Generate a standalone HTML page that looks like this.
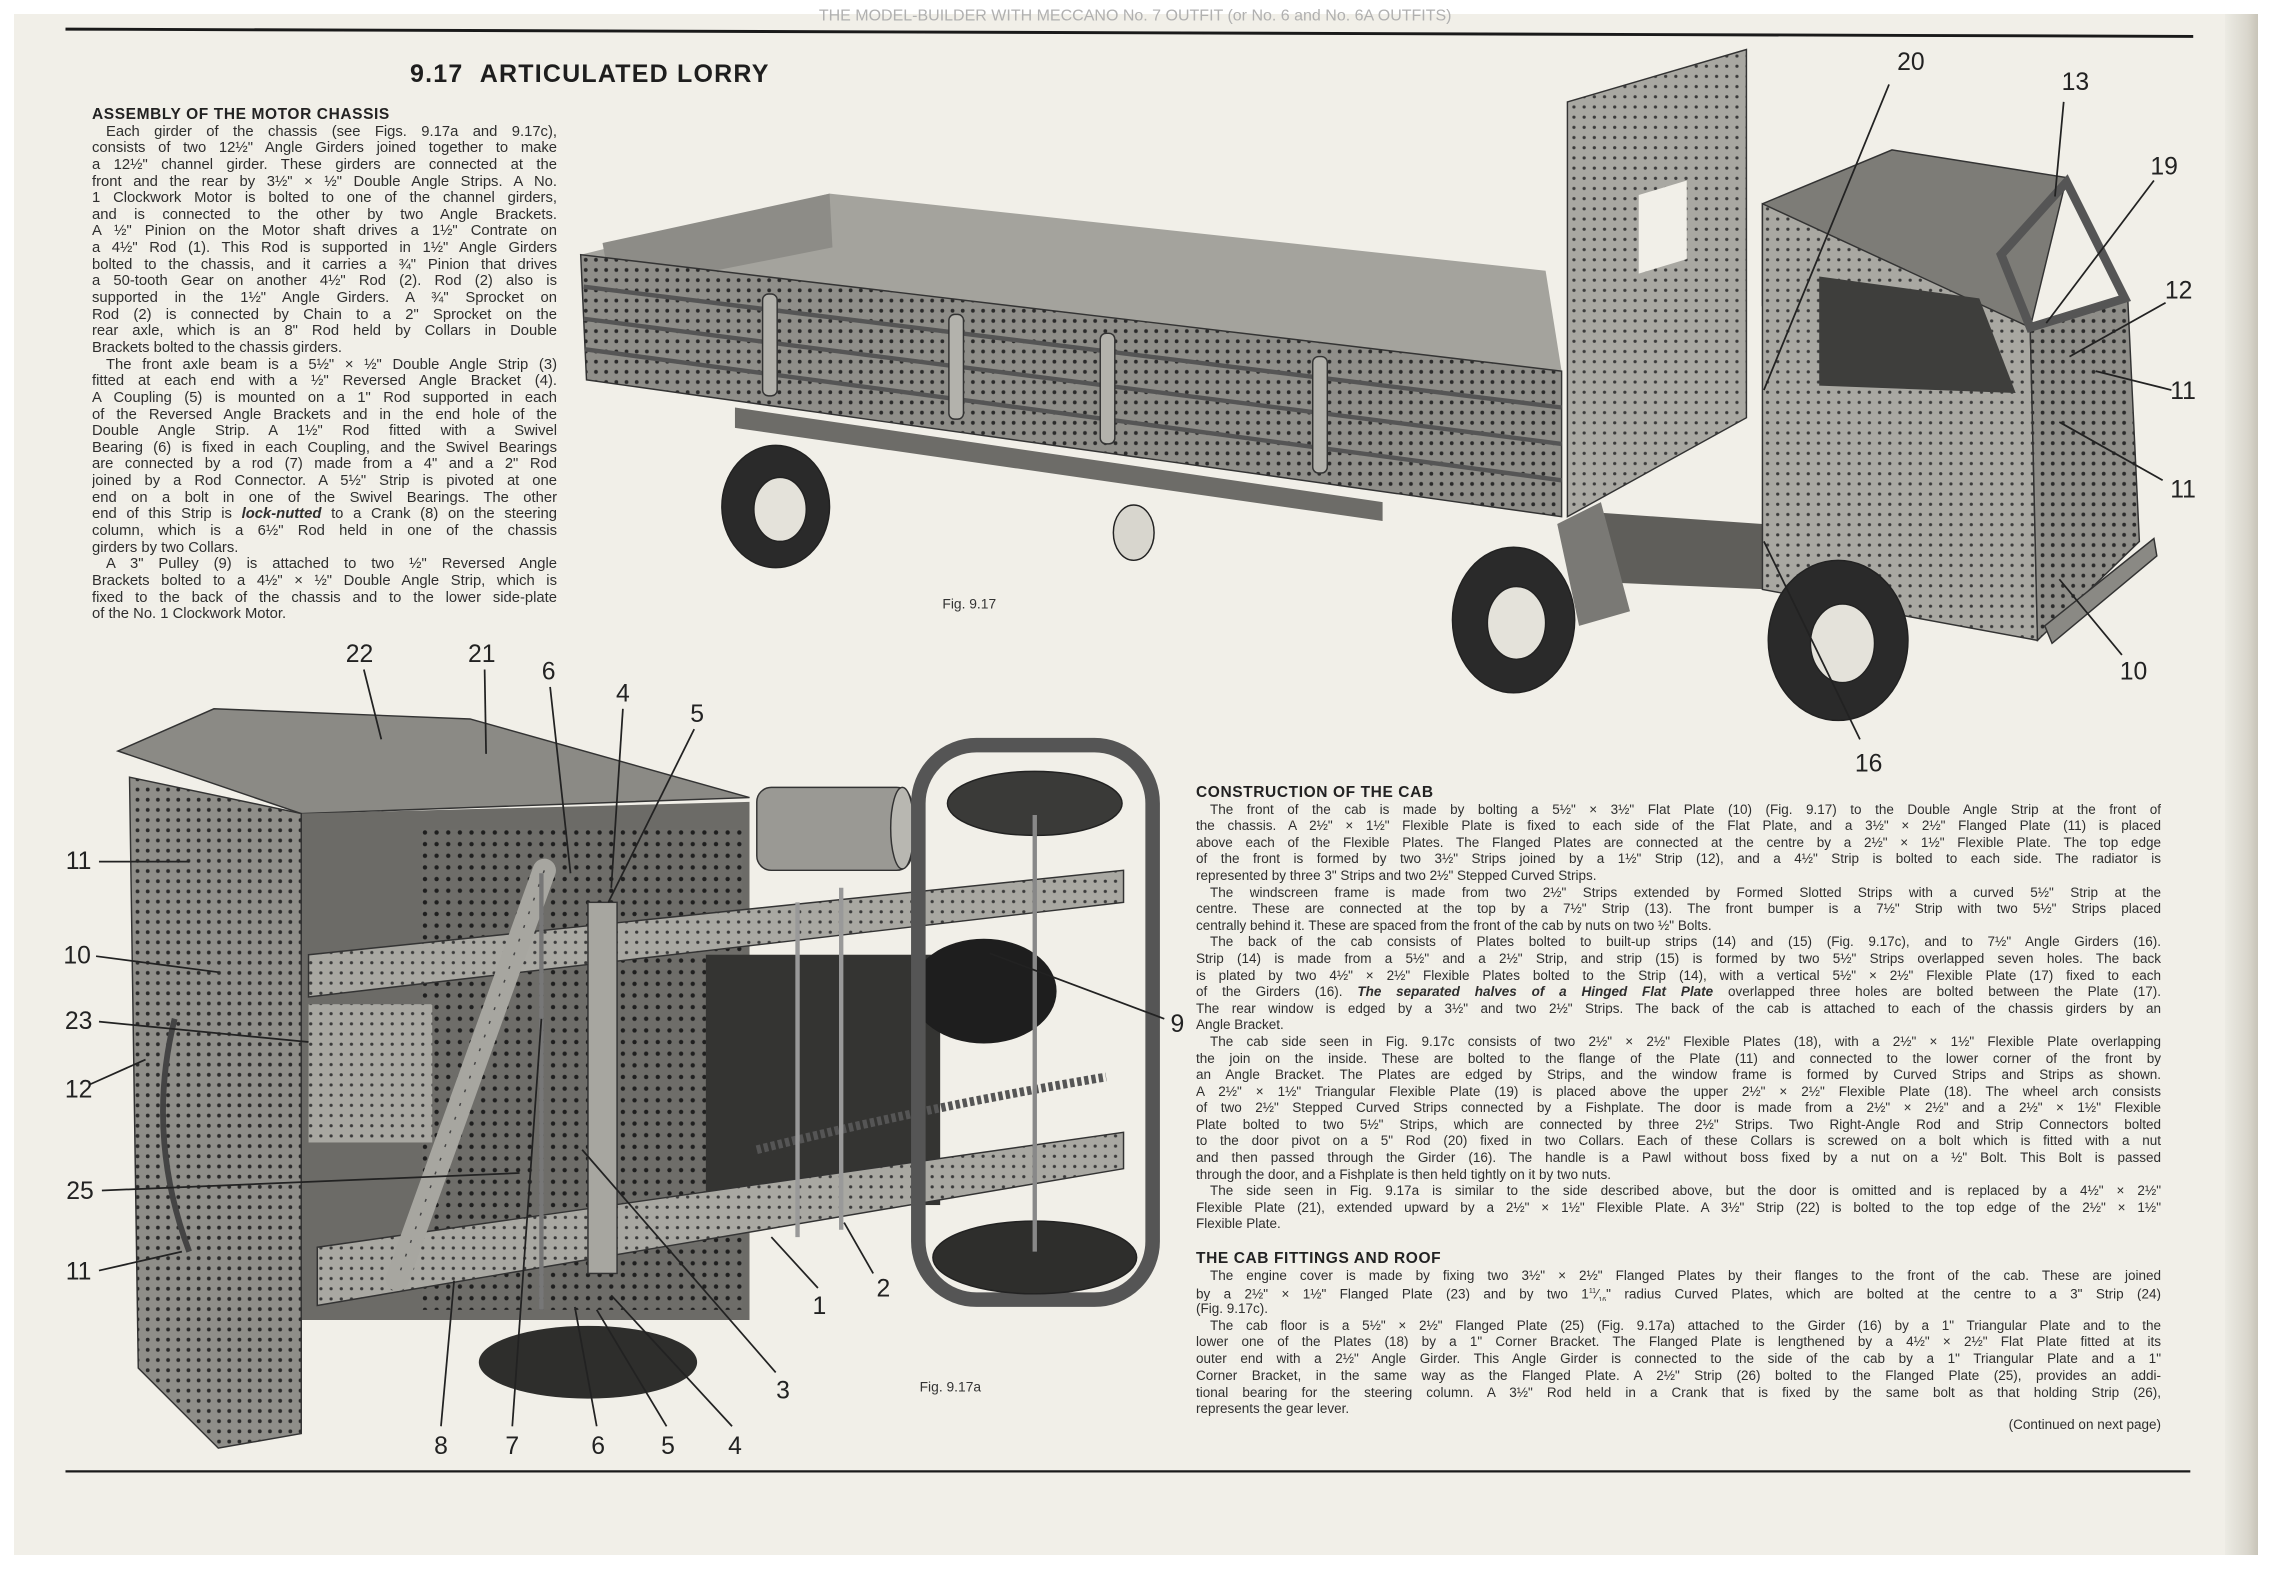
<!DOCTYPE html>
<html><head><meta charset="utf-8">
<style>
html,body{margin:0;padding:0;background:#fff;}
#pg{position:relative;width:2282px;height:1574px;overflow:hidden;background:#fff;font-family:"Liberation Sans",sans-serif;color:#2e2e2e;}
#paper{position:absolute;left:14px;top:14px;width:2244px;height:1541px;background:#f1efe8;}
#curl{position:absolute;left:2225px;top:14px;width:33px;height:1541px;background:linear-gradient(90deg,#ecebe4,#d9d6cc 70%,#c8c4b8);}
svg{position:absolute;left:0;top:0;}
.col{position:absolute;font-size:14.8px;}
.col div{height:16.65px;line-height:16.65px;text-align:justify;text-align-last:justify;overflow:hidden;white-space:normal;}
.col div.e{text-align-last:left;}
.col div.i{text-indent:14px;}
.col div.h{font-weight:bold;font-size:15.5px;letter-spacing:0.6px;text-align-last:left;color:#222;}
#rc{font-size:13.5px;}
#rc div{height:16.6px;line-height:16.6px;}
#rc2{font-size:13.5px;}
#rc2 div{height:16.7px;line-height:16.7px;}
</style></head><body>
<div id="pg">
<div id="paper"></div>
<div id="curl"></div>

<svg width="2282" height="1574" viewBox="0 0 1568 1081.5">
<defs>
<pattern id="p" width="7" height="7" patternUnits="userSpaceOnUse">
<rect width="7" height="7" fill="#8f8e89"/><circle cx="3.5" cy="3.5" r="1.3" fill="#2a2a2a"/>
</pattern>
<pattern id="pl" width="7" height="7" patternUnits="userSpaceOnUse">
<rect width="7" height="7" fill="#a9a8a2"/><circle cx="3.5" cy="3.5" r="1.1" fill="#3a3a3a"/>
</pattern>
<pattern id="pd" width="8" height="8" patternUnits="userSpaceOnUse">
<rect width="8" height="8" fill="#6e6d69"/><circle cx="4" cy="4" r="1.5" fill="#1e1e1e"/>
</pattern>
</defs>
<line x1="45" y1="20" x2="1507" y2="25" stroke="#1a1a1a" stroke-width="2"/>
<line x1="45" y1="1011" x2="1505" y2="1011" stroke="#1a1a1a" stroke-width="1.6"/>
<text x="780" y="14" font-size="11" fill="#b0b0b0" text-anchor="middle" font-family="Liberation Sans">THE MODEL-BUILDER WITH MECCANO No. 7 OUTFIT (or No. 6 and No. 6A OUTFITS)</text>

<!-- ===== Fig 9.17 truck ===== -->
<polygon points="399,175 570,133 1062,186 1073,255" fill="#a4a39d"/>
<polygon points="414,167 570,133 572,170 420,200" fill="#8d8c87"/>
<polygon points="399,175 1073,255 1073,355 403,261" fill="url(#p)" stroke="#333" stroke-width="1"/>
<line x1="401" y1="197" x2="1073" y2="280" stroke="#555" stroke-width="3"/>
<line x1="401" y1="219" x2="1073" y2="305" stroke="#555" stroke-width="3"/>
<line x1="402" y1="240" x2="1073" y2="330" stroke="#555" stroke-width="3"/>
<g fill="#b3b2ac" stroke="#333" stroke-width="1">
<rect x="524" y="202" width="10" height="70" rx="4"/>
<rect x="652" y="216" width="10" height="72" rx="4"/>
<rect x="756" y="229" width="10" height="76" rx="4"/>
<rect x="902" y="245" width="10" height="80" rx="4"/>
</g>
<polygon points="505,280 950,345 950,358 505,294" fill="#6d6c68"/>
<polygon points="1077,70 1200,34 1200,287 1077,355" fill="url(#pl)" stroke="#333" stroke-width="1"/>
<polygon points="1126,134 1159,124 1159,178 1126,188" fill="#f1efe8"/>
<polygon points="1095,352 1211,360 1215,405 1100,400" fill="#5f5e5a"/>
<polygon points="1070,360 1100,345 1120,420 1085,430" fill="#7a7975"/>
<polygon points="1211,140 1300,103 1420,122 1395,225 1211,210" fill="#7d7c77" stroke="#333"/>
<polygon points="1211,140 1395,225 1400,440 1211,405" fill="url(#pl)" stroke="#333"/>
<polygon points="1250,190 1360,205 1385,270 1250,265" fill="#3e3e3c"/>
<polygon points="1395,225 1462,205 1470,372 1400,440" fill="url(#p)" stroke="#333"/>
<polygon points="1420,125 1460,205 1395,225 1375,175" fill="none" stroke="#555" stroke-width="6"/>
<polygon points="1405,430 1480,370 1482,382 1410,442" fill="#8a8984" stroke="#333"/>
<g stroke="#222" stroke-width="1">
<ellipse cx="533" cy="348" rx="37" ry="42" fill="#2a2a2a"/>
<ellipse cx="536" cy="350" rx="18" ry="22" fill="#e4e2da"/>
<ellipse cx="779" cy="366" rx="14" ry="19" fill="#d8d6ce"/>
<ellipse cx="1040" cy="426" rx="42" ry="50" fill="#2a2a2a"/>
<ellipse cx="1042" cy="428" rx="20" ry="25" fill="#e4e2da"/>
<ellipse cx="1263" cy="440" rx="48" ry="55" fill="#2a2a2a"/>
<ellipse cx="1266" cy="442" rx="22" ry="27" fill="#e4e2da"/>
</g>
<text x="666" y="418" font-size="9.5" text-anchor="middle" fill="#333" font-family="Liberation Sans">Fig. 9.17</text>

<g stroke="#222" stroke-width="1.2">
<line x1="1298" y1="58" x2="1212" y2="268"/>
<line x1="1418" y1="70" x2="1412" y2="135"/>
<line x1="1480" y1="124" x2="1406" y2="222"/>
<line x1="1488" y1="208" x2="1422" y2="245"/>
<line x1="1492" y1="268" x2="1440" y2="255"/>
<line x1="1486" y1="330" x2="1415" y2="290"/>
<line x1="1458" y1="450" x2="1415" y2="398"/>
<line x1="1278" y1="508" x2="1212" y2="372"/>
</g>
<g font-family="Liberation Sans" font-size="17" fill="#222" text-anchor="middle">
<text x="1313" y="48">20</text>
<text x="1426" y="62">13</text>
<text x="1487" y="120">19</text>
<text x="1497" y="205">12</text>
<text x="1500" y="274">11</text>
<text x="1500" y="342">11</text>
<text x="1466" y="467">10</text>
<text x="1284" y="530">16</text>
</g>

<!-- ===== Fig 9.17a chassis ===== -->
<polygon points="81,516 147,487 323,494 515,548 207,559" fill="#8b8a85" stroke="#333"/>
<polygon points="207,559 515,551 515,907 207,907" fill="#6c6b67"/>
<rect x="290" y="570" width="220" height="330" fill="url(#pd)"/>
<rect x="212" y="690" width="85" height="95" fill="url(#pl)"/>
<polygon points="89,534 207,559 207,985 150,995 95,940" fill="url(#p)" stroke="#333"/>
<path d="M120 700 Q100 780 130 860" stroke="#444" stroke-width="4" fill="none"/>
<rect x="520" y="541" width="106" height="57" rx="10" fill="#9a9994" stroke="#333"/>
<ellipse cx="620" cy="569" rx="8" ry="28" fill="#b8b7b1" stroke="#333"/>
<rect x="485" y="656" width="161" height="172" fill="#343432"/>
<ellipse cx="676" cy="681" rx="50" ry="36" fill="#1e1e1e"/>
<polygon points="212,656 772,598 772,620 212,685" fill="url(#pl)" stroke="#333"/>
<polygon points="218,857 772,778 772,803 218,897" fill="url(#pl)" stroke="#333"/>
<path d="M520 790 Q640 760 760 740" stroke="#555" stroke-width="6" fill="none" stroke-dasharray="3 2"/>
<rect x="631" y="512" width="161" height="381" rx="40" fill="none" stroke="#555" stroke-width="10"/>
<ellipse cx="711" cy="552" rx="60" ry="22" fill="#3a3a38" stroke="#222"/>
<ellipse cx="711" cy="864" rx="70" ry="25" fill="#2e2e2c" stroke="#222"/>
<line x1="711" y1="560" x2="711" y2="860" stroke="#888" stroke-width="3"/>
<line x1="548" y1="620" x2="548" y2="850" stroke="#999" stroke-width="3"/>
<line x1="578" y1="610" x2="578" y2="845" stroke="#999" stroke-width="3"/>
<line x1="374" y1="598" x2="273" y2="879" stroke="#a7a6a0" stroke-width="16" stroke-linecap="round"/>
<line x1="374" y1="598" x2="273" y2="879" stroke="#444" stroke-width="1" stroke-dasharray="2 8"/>
<rect x="404" y="620" width="20" height="255" fill="#a7a6a0" stroke="#333"/>
<line x1="372" y1="600" x2="372" y2="900" stroke="#777" stroke-width="3"/>
<ellipse cx="404" cy="936" rx="75" ry="25" fill="#2e2e2c"/>
<g stroke="#222" stroke-width="1.2">
<line x1="68" y1="592" x2="130" y2="592"/>
<line x1="66" y1="657" x2="150" y2="668"/>
<line x1="68" y1="702" x2="212" y2="716"/>
<line x1="62" y1="745" x2="100" y2="728"/>
<line x1="70" y1="818" x2="357" y2="806"/>
<line x1="68" y1="873" x2="125" y2="860"/>
<line x1="250" y1="460" x2="262" y2="508"/>
<line x1="333" y1="460" x2="334" y2="518"/>
<line x1="378" y1="472" x2="392" y2="600"/>
<line x1="428" y1="487" x2="420" y2="610"/>
<line x1="477" y1="501" x2="418" y2="620"/>
<line x1="800" y1="700" x2="680" y2="655"/>
<line x1="562" y1="885" x2="530" y2="850"/>
<line x1="600" y1="875" x2="580" y2="840"/>
<line x1="533" y1="943" x2="400" y2="790"/>
<line x1="303" y1="980" x2="312" y2="880"/>
<line x1="352" y1="980" x2="372" y2="700"/>
<line x1="410" y1="980" x2="395" y2="898"/>
<line x1="458" y1="980" x2="410" y2="900"/>
<line x1="503" y1="980" x2="420" y2="890"/>
</g>
<g font-family="Liberation Sans" font-size="17" fill="#222" text-anchor="middle">
<text x="247" y="455">22</text>
<text x="331" y="455">21</text>
<text x="377" y="467">6</text>
<text x="428" y="482">4</text>
<text x="479" y="496">5</text>
<text x="54" y="597">11</text>
<text x="53" y="662">10</text>
<text x="54" y="707">23</text>
<text x="54" y="754">12</text>
<text x="55" y="824">25</text>
<text x="54" y="879">11</text>
<text x="809" y="709">9</text>
<text x="563" y="903">1</text>
<text x="607" y="891">2</text>
<text x="538" y="961">3</text>
<text x="303" y="999">8</text>
<text x="352" y="999">7</text>
<text x="411" y="999">6</text>
<text x="459" y="999">5</text>
<text x="505" y="999">4</text>
</g>
<text x="653" y="956" font-size="9.5" text-anchor="middle" fill="#333" font-family="Liberation Sans">Fig. 9.17a</text>
</svg>

<div style="position:absolute;left:410px;top:60px;font-size:25px;font-weight:bold;letter-spacing:1.2px;color:#1e1e1e;">9.17&nbsp;&nbsp;ARTICULATED LORRY</div>

<div class="col" style="left:92px;top:107px;width:465px;">
<div class="h">ASSEMBLY OF THE MOTOR CHASSIS</div>
<div class="i">Each girder of the chassis (see Figs. 9.17a and 9.17c),</div>
<div>consists of two 12½" Angle Girders joined together to make</div>
<div>a 12½" channel girder. These girders are connected at the</div>
<div>front and the rear by 3½" × ½" Double Angle Strips. A No.</div>
<div>1 Clockwork Motor is bolted to one of the channel girders,</div>
<div>and is connected to the other by two Angle Brackets.</div>
<div>A ½" Pinion on the Motor shaft drives a 1½" Contrate on</div>
<div>a 4½" Rod (1). This Rod is supported in 1½" Angle Girders</div>
<div>bolted to the chassis, and it carries a ¾" Pinion that drives</div>
<div>a 50-tooth Gear on another 4½" Rod (2). Rod (2) also is</div>
<div>supported in the 1½" Angle Girders. A ¾" Sprocket on</div>
<div>Rod (2) is connected by Chain to a 2" Sprocket on the</div>
<div>rear axle, which is an 8" Rod held by Collars in Double</div>
<div class="e">Brackets bolted to the chassis girders.</div>
<div class="i">The front axle beam is a 5½" × ½" Double Angle Strip (3)</div>
<div>fitted at each end with a ½" Reversed Angle Bracket (4).</div>
<div>A Coupling (5) is mounted on a 1" Rod supported in each</div>
<div>of the Reversed Angle Brackets and in the end hole of the</div>
<div>Double Angle Strip. A 1½" Rod fitted with a Swivel</div>
<div>Bearing (6) is fixed in each Coupling, and the Swivel Bearings</div>
<div>are connected by a rod (7) made from a 4" and a 2" Rod</div>
<div>joined by a Rod Connector. A 5½" Strip is pivoted at one</div>
<div>end on a bolt in one of the Swivel Bearings. The other</div>
<div>end of this Strip is <i><b>lock-nutted</b></i> to a Crank (8) on the steering</div>
<div>column, which is a 6½" Rod held in one of the chassis</div>
<div class="e">girders by two Collars.</div>
<div class="i">A 3" Pulley (9) is attached to two ½" Reversed Angle</div>
<div>Brackets bolted to a 4½" × ½" Double Angle Strip, which is</div>
<div>fixed to the back of the chassis and to the lower side-plate</div>
<div class="e">of the No. 1 Clockwork Motor.</div>
</div>

<div class="col" id="rc" style="left:1196px;top:785px;width:965px;">
<div class="h">CONSTRUCTION OF THE CAB</div>
<div class="i">The front of the cab is made by bolting a 5½" × 3½" Flat Plate (10) (Fig. 9.17) to the Double Angle Strip at the front of</div>
<div>the chassis. A 2½" × 1½" Flexible Plate is fixed to each side of the Flat Plate, and a 3½" × 2½" Flanged Plate (11) is placed</div>
<div>above each of the Flexible Plates. The Flanged Plates are connected at the centre by a 2½" × 1½" Flexible Plate. The top edge</div>
<div>of the front is formed by two 3½" Strips joined by a 1½" Strip (12), and a 4½" Strip is bolted to each side. The radiator is</div>
<div class="e">represented by three 3" Strips and two 2½" Stepped Curved Strips.</div>
<div class="i">The windscreen frame is made from two 2½" Strips extended by Formed Slotted Strips with a curved 5½" Strip at the</div>
<div>centre. These are connected at the top by a 7½" Strip (13). The front bumper is a 7½" Strip with two 5½" Strips placed</div>
<div class="e">centrally behind it. These are spaced from the front of the cab by nuts on two ½" Bolts.</div>
<div class="i">The back of the cab consists of Plates bolted to built-up strips (14) and (15) (Fig. 9.17c), and to 7½" Angle Girders (16).</div>
<div>Strip (14) is made from a 5½" and a 2½" Strip, and strip (15) is formed by two 5½" Strips overlapped seven holes. The back</div>
<div>is plated by two 4½" × 2½" Flexible Plates bolted to the Strip (14), with a vertical 5½" × 2½" Flexible Plate (17) fixed to each</div>
<div>of the Girders (16). <b><i>The separated halves of a Hinged Flat Plate</i></b> overlapped three holes are bolted between the Plate (17).</div>
<div>The rear window is edged by a 3½" and two 2½" Strips. The back of the cab is attached to each of the chassis girders by an</div>
<div class="e">Angle Bracket.</div>
<div class="i">The cab side seen in Fig. 9.17c consists of two 2½" × 2½" Flexible Plates (18), with a 2½" × 1½" Flexible Plate overlapping</div>
<div>the join on the inside. These are bolted to the flange of the Plate (11) and connected to the lower corner of the front by</div>
<div>an Angle Bracket. The Plates are edged by Strips, and the window frame is formed by Curved Strips and Strips as shown.</div>
<div>A 2½" × 1½" Triangular Flexible Plate (19) is placed above the upper 2½" × 2½" Flexible Plate (18). The wheel arch consists</div>
<div>of two 2½" Stepped Curved Strips connected by a Fishplate. The door is made from a 2½" × 2½" and a 2½" × 1½" Flexible</div>
<div>Plate bolted to two 5½" Strips, which are connected by three 2½" Strips. Two Right-Angle Rod and Strip Connectors bolted</div>
<div>to the door pivot on a 5" Rod (20) fixed in two Collars. Each of these Collars is screwed on a bolt which is fitted with a nut</div>
<div>and then passed through the Girder (16). The handle is a Pawl without boss fixed by a nut on a ½" Bolt. This Bolt is passed</div>
<div class="e">through the door, and a Fishplate is then held tightly on it by two nuts.</div>
<div class="i">The side seen in Fig. 9.17a is similar to the side described above, but the door is omitted and is replaced by a 4½" × 2½"</div>
<div>Flexible Plate (21), extended upward by a 2½" × 1½" Flexible Plate. A 3½" Strip (22) is bolted to the top edge of the 2½" × 1½"</div>
<div class="e">Flexible Plate.</div>
</div>

<div class="col" id="rc2" style="left:1196px;top:1251px;width:965px;">
<div class="h">THE CAB FITTINGS AND ROOF</div>
<div class="i">The engine cover is made by fixing two 3½" × 2½" Flanged Plates by their flanges to the front of the cab. These are joined</div>
<div>by a 2½" × 1½" Flanged Plate (23) and by two 1<sup style="font-size:7px">11</sup>⁄<sub style="font-size:7px">16</sub>" radius Curved Plates, which are bolted at the centre to a 3" Strip (24)</div>
<div class="e">(Fig. 9.17c).</div>
<div class="i">The cab floor is a 5½" × 2½" Flanged Plate (25) (Fig. 9.17a) attached to the Girder (16) by a 1" Triangular Plate and to the</div>
<div>lower one of the Plates (18) by a 1" Corner Bracket. The Flanged Plate is lengthened by a 4½" × 2½" Flat Plate fitted at its</div>
<div>outer end with a 2½" Angle Girder. This Angle Girder is connected to the side of the cab by a 1" Triangular Plate and a 1"</div>
<div>Corner Bracket, in the same way as the Flanged Plate. A 2½" Strip (26) bolted to the Flanged Plate (25), provides an addi-</div>
<div>tional bearing for the steering column. A 3½" Rod held in a Crank that is fixed by the same bolt as that holding Strip (26),</div>
<div class="e">represents the gear lever.</div>
</div>
<div style="position:absolute;left:1900px;top:1417px;width:261px;text-align:right;font-size:13.5px;color:#2e2e2e;">(Continued on next page)</div>
</div>
</body></html>
